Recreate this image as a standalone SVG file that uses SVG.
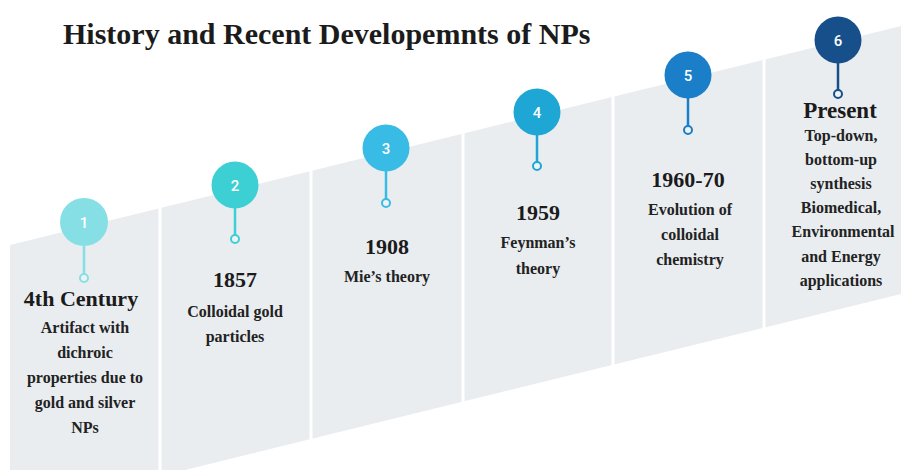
<svg xmlns="http://www.w3.org/2000/svg" width="901" height="470" viewBox="0 0 901 470">
<style>
.title{font-family:"Liberation Serif","Times New Roman",serif;font-weight:bold;font-size:30px;fill:#1b1b1b}
.year{font-family:"Liberation Serif","Times New Roman",serif;font-weight:bold;font-size:22px;fill:#1b1b1b;text-anchor:middle}
.body{font-family:"Liberation Serif","Times New Roman",serif;font-weight:bold;font-size:16px;fill:#222;text-anchor:middle}
.num{font-family:Roboto,"Liberation Sans",sans-serif;font-weight:500;font-size:15px;fill:#fff;text-anchor:middle}
.gap{stroke:#fff;stroke-width:3}
.dot{fill:#eef2f4;stroke-width:2}
.stem{stroke-width:2.5}
</style>
<rect width="901" height="470" fill="#fff"/>
<g id="band">
<polygon points="10,245 901,26 901,294 10,513" fill="#e9edf0"/>
<line class="gap" x1="160" y1="0" x2="160" y2="470"/>
<line class="gap" x1="311" y1="0" x2="311" y2="470"/>
<line class="gap" x1="463" y1="0" x2="463" y2="470"/>
<line class="gap" x1="613" y1="0" x2="613" y2="470"/>
<line class="gap" x1="764" y1="0" x2="764" y2="470"/>
</g>
<text class="title" x="63" y="44">History and Recent Developemnts of NPs</text>
<g id="connectors">
<line class="stem" x1="84" y1="246" x2="84" y2="274" stroke="#86dfe5"/>
<line class="stem" x1="235" y1="208" x2="235" y2="235" stroke="#3ccfd4"/>
<line class="stem" x1="386" y1="171" x2="386" y2="199" stroke="#38bce6"/>
<line class="stem" x1="537" y1="135" x2="537" y2="162" stroke="#1ea7d5"/>
<line class="stem" x1="688" y1="98" x2="688" y2="126" stroke="#1a7ec8"/>
<line class="stem" x1="838" y1="63" x2="838" y2="90" stroke="#174f8a"/>
</g>
<g id="node1">
<circle cx="84" cy="222" r="24" fill="#86dfe5"/>
<text class="num" x="84" y="227.5">1</text>
<circle class="dot" cx="84" cy="278" r="4" stroke="#86dfe5"/>
<text class="year" x="81" y="306">4th Century</text>
<text class="body" x="85" y="333">Artifact with</text>
<text class="body" x="85" y="358">dichroic</text>
<text class="body" x="85" y="383">properties due to</text>
<text class="body" x="85" y="408">gold and silver</text>
<text class="body" x="85" y="433">NPs</text>
</g>
<g id="node2">
<circle cx="235" cy="185" r="23.5" fill="#3ccfd4"/>
<text class="num" x="235" y="190.5">2</text>
<circle class="dot" cx="235" cy="239" r="4" stroke="#3ccfd4"/>
<text class="year" x="235" y="287">1857</text>
<text class="body" x="235" y="317">Colloidal gold</text>
<text class="body" x="235" y="342">particles</text>
</g>
<g id="node3">
<circle cx="386" cy="148" r="23.5" fill="#38bce6"/>
<text class="num" x="386" y="153.5">3</text>
<circle class="dot" cx="386" cy="203" r="4" stroke="#38bce6"/>
<text class="year" x="387" y="254">1908</text>
<text class="body" x="387" y="282">Mie’s theory</text>
</g>
<g id="node4">
<circle cx="537" cy="112" r="23.5" fill="#1ea7d5"/>
<text class="num" x="537" y="117.5">4</text>
<circle class="dot" cx="537" cy="166" r="4" stroke="#1ea7d5"/>
<text class="year" x="538" y="220">1959</text>
<text class="body" x="538" y="248">Feynman’s</text>
<text class="body" x="538" y="274">theory</text>
</g>
<g id="node5">
<circle cx="688" cy="75" r="23.5" fill="#1a7ec8"/>
<text class="num" x="688" y="80.5">5</text>
<circle class="dot" cx="688" cy="130" r="4" stroke="#1a7ec8"/>
<text class="year" x="688" y="187">1960-70</text>
<text class="body" x="690" y="215">Evolution of</text>
<text class="body" x="690" y="240">colloidal</text>
<text class="body" x="690" y="265">chemistry</text>
</g>
<g id="node6">
<circle cx="838" cy="40" r="23.5" fill="#174f8a"/>
<text class="num" x="838" y="45.5">6</text>
<circle class="dot" cx="838" cy="94" r="4" stroke="#174f8a"/>
<text class="year" x="840" y="118" style="font-size:23px">Present</text>
<text class="body" x="841" y="141">Top-down,</text>
<text class="body" x="841" y="165">bottom-up</text>
<text class="body" x="841" y="189">synthesis</text>
<text class="body" x="841" y="213">Biomedical,</text>
<text class="body" x="843" y="237">Environmental</text>
<text class="body" x="841" y="262">and Energy</text>
<text class="body" x="841" y="286">applications</text>
</g>
</svg>
